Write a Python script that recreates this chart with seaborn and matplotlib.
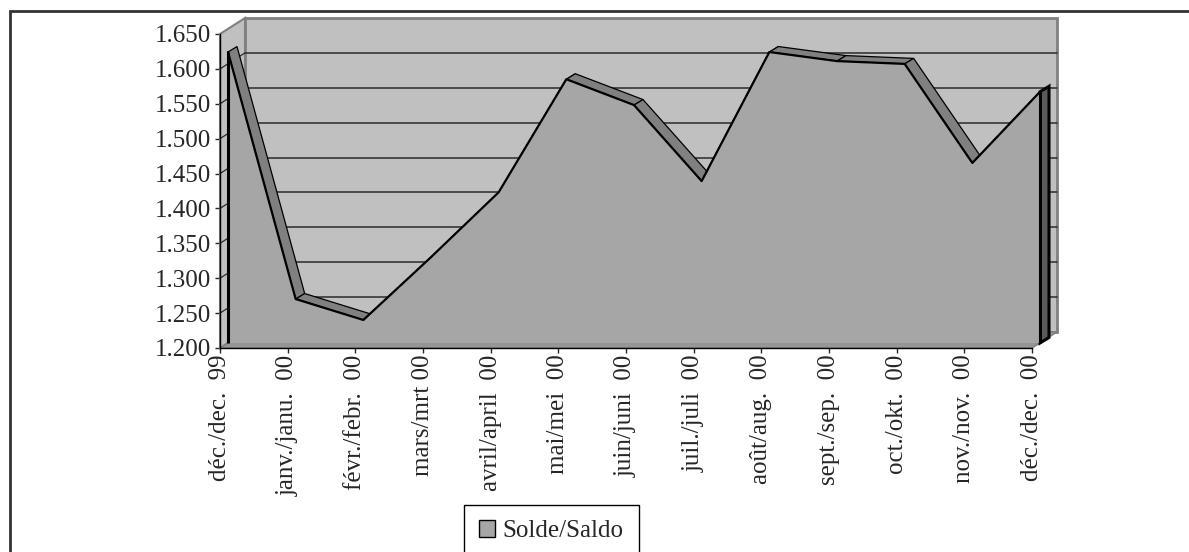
import matplotlib
matplotlib.use("Agg")
import matplotlib.pyplot as plt
import numpy as np
import seaborn as sns
from matplotlib.patches import Polygon, Rectangle, Patch
from matplotlib.ticker import FuncFormatter, MultipleLocator

sns.set_style("white")
plt.rcParams['font.family'] = ['Liberation Serif', 'DejaVu Serif']

# ---------------- data ----------------
categories = ["déc./dec.  99", "janv./janu.  00", "févr./febr.  00", "mars/mrt 00",
              "avril/april  00", "mai/mei  00", "juin/juni  00", "juil./juli  00",
              "août/aug.  00", "sept./sep.  00", "oct./okt.  00", "nov./nov.  00",
              "déc./dec.  00"]
values = [1617, 1263, 1233, 1323, 1416, 1578, 1541, 1432, 1617, 1604, 1600, 1458, 1560]
series_name = "Solde/Saldo"
y_min, y_max, y_step = 1200, 1650, 50

# ---------------- layout ----------------
W, H, DPI = 1189, 552, 100
fig = plt.figure(figsize=(W / DPI, H / DPI), dpi=DPI)
fig.patch.set_facecolor("white")
ax_l, ax_r, ax_t, ax_b = 220, 1032, 34, 348
ax = fig.add_axes([ax_l / W, (H - ax_b) / H, (ax_r - ax_l) / W, (ax_b - ax_t) / H])
ax.set_facecolor("none")

n = len(categories)
xmax = n - 1
px_x = (ax_r - ax_l) / xmax
px_y = (ax_b - ax_t) / (y_max - y_min)

def dpx(dx, dy):
    """pixel depth offset -> data units"""
    return dx / px_x, dy / px_y

Dx, Dy = dpx(25, 16)      # back wall depth
a1x, a1y = dpx(8, 5)      # front face of area slab
a2x, a2y = dpx(17, 10.5)  # back face of area slab

wall_c = "#c0c0c0"
edge_c = "#808080"
face_c = "#a6a6a6"
top_c = "#808080"

# back wall
ax.add_patch(Polygon([(Dx, y_min + Dy), (xmax + Dx, y_min + Dy), (xmax + Dx, y_max + Dy), (Dx, y_max + Dy)],
                     closed=True, fc=wall_c, ec=edge_c, lw=2, zorder=1, clip_on=False))
# side wall
ax.add_patch(Polygon([(0, y_min), (0, y_max), (Dx, y_max + Dy), (Dx, y_min + Dy)],
                     closed=True, fc=wall_c, ec=edge_c, lw=1.5, zorder=1, clip_on=False))
# floor
ax.add_patch(Polygon([(0, y_min), (xmax, y_min), (xmax + Dx, y_min + Dy), (Dx, y_min + Dy)],
                     closed=True, fc="#969696", ec=edge_c, lw=1, zorder=1, clip_on=False))

# gridlines
for v in np.arange(y_min + y_step, y_max, y_step):
    ax.plot([Dx, xmax + Dx], [v + Dy, v + Dy], color="#2a2a2a", lw=1.1, zorder=2, clip_on=False)
    ax.plot([0, Dx], [v, v + Dy], color="#2a2a2a", lw=0.9, zorder=2, clip_on=False)

# top strips of the slab
for i in range(n - 1):
    quad = [(i + a1x, values[i] + a1y), (i + 1 + a1x, values[i + 1] + a1y),
            (i + 1 + a2x, values[i + 1] + a2y), (i + a2x, values[i] + a2y)]
    ax.add_patch(Polygon(quad, closed=True, fc=top_c, ec="black", lw=0.9, zorder=3, clip_on=False))

# right end cap
ax.add_patch(Polygon([(xmax + a1x, values[-1] + a1y), (xmax + a1x, y_min + a1y),
                      (xmax + a2x, y_min + a2y), (xmax + a2x, values[-1] + a2y)],
                     closed=True, fc="#5a5a5a", ec="black", lw=2.2, zorder=3, clip_on=False))

# front face
xs = np.arange(n) + a1x
ys = np.array(values, dtype=float) + a1y
face = [(xs[0], y_min + a1y)] + list(zip(xs, ys)) + [(xs[-1], y_min + a1y)]
ax.add_patch(Polygon(face, closed=True, fc=face_c, ec="none", zorder=4, clip_on=False))

sns.lineplot(x=xs, y=ys, ax=ax, color="black", lw=1.6, legend=False, zorder=5, sort=False)
for ln in ax.lines[-1:]:
    ln.set_clip_on(False)
ax.vlines([xs[0], xs[-1]], y_min + a1y, [ys[0], ys[-1]], color="black", lw=2.2, zorder=5, clip_on=False)

# axes
ax.set_xlim(0, xmax)
ax.set_ylim(y_min, y_max)
ax.set_xticks(range(n))
ax.set_xticklabels(categories, rotation=90, ha="center", va="top", fontsize=18)
ax.yaxis.set_major_locator(MultipleLocator(y_step))
ax.yaxis.set_major_formatter(FuncFormatter(lambda v, p: f"{int(round(v)):,}".replace(",", ".")))
ax.tick_params(axis="y", labelsize=18, direction="out", length=3.6, width=1, pad=3, left=True)
ax.tick_params(axis="x", direction="out", length=3.6, width=1, pad=1, bottom=True)
for s in ["top", "right"]:
    ax.spines[s].set_visible(False)
for s in ["left", "bottom"]:
    ax.spines[s].set_color("black")
    ax.spines[s].set_linewidth(1)
    ax.spines[s].set_zorder(6)
ax.grid(False)

# legend
handle = Patch(fc=face_c, ec="black", lw=1)
leg = fig.legend(handles=[handle], labels=[series_name], loc="upper left",
                 bbox_to_anchor=(464 / W, 1 - 505 / H), frameon=True, fancybox=False,
                 edgecolor="black", framealpha=1, borderaxespad=0, handlelength=0.65,
                 handleheight=0.65, handletextpad=0.3, borderpad=0.6, fontsize=18)
leg.get_frame().set_linewidth(1)

# figure border
fig.add_artist(Rectangle((10 / W, -0.5), 2, (1 - 11 / H) + 0.5, transform=fig.transFigure,
                         fill=False, ec="#333333", lw=2))

fig.savefig("out.png", dpi=DPI)
